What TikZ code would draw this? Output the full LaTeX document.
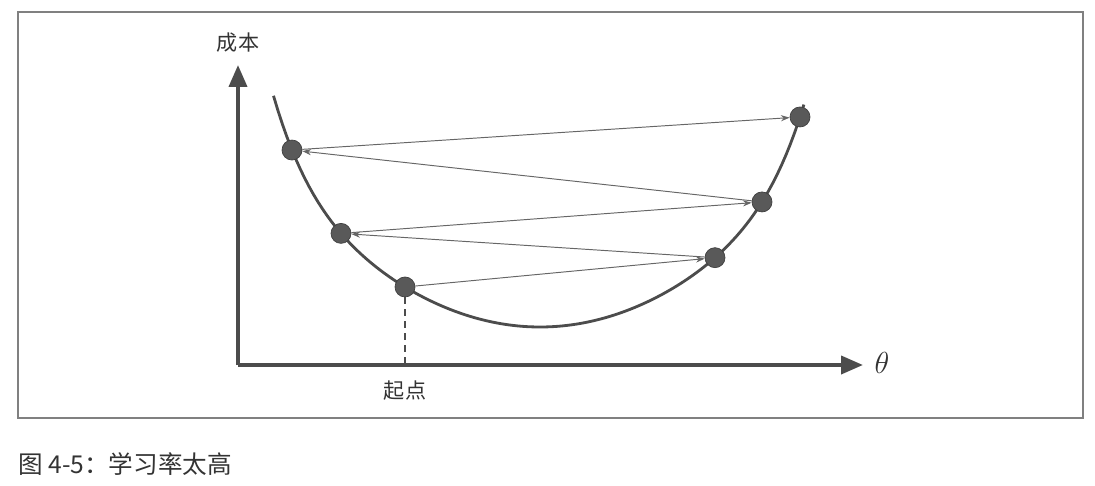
\documentclass[tikz,border=0pt]{standalone}
\usepackage{fontspec}
\newfontfamily\cjk{Noto Sans CJK SC}
\usetikzlibrary{arrows.meta}
\begin{document}
\begin{tikzpicture}[x=0.02cm, y=-0.02cm,
			declare function={cost(\t)=21.77*\t*\t+0.0301*(\t*\t)^4;},
			dot/.style={circle, fill=black!65, draw=black!75, inner sep=0pt, minimum size=0.4cm},
			jump/.style={-{Stealth[length=5pt,width=3.5pt]}, draw=black!60, line width=0.55pt},
			axis/.style={-{Triangle[length=0.44cm,width=0.36cm]}, draw=black!70, line width=2.2pt},
			lbl/.style={font=\cjk\fontsize{12}{14}\selectfont, text=black!80}
			]
			\useasboundingbox (0,0) rectangle (1095,486);
			
			% Frame
			\draw[black!50, line width=1pt] (18,12) rectangle (1083,418);
			
			% Axes
			\coordinate (o) at (238,365);
			\coordinate (ytip) at (238,65);
			\coordinate (xtip) at (863,365);
			\draw[axis] (o) -- (ytip);
			\draw[axis] (o) -- (xtip);
			\node[lbl] (cost) at (238,43) {成本};
			\node[font=\fontsize{16}{18}\selectfont, text=black!80] (theta) at (882,363) {$\theta$};
			
			% Cost curve
			\draw[black!70, line width=1.6pt] plot[domain=-2.665:2.64, samples=120] ({540+100*\x}, {327-cost(\x)});
			
			% Steps
			\node[dot] (p1) at ({540-248}, {327-cost(-2.48)}) {};
			\node[dot] (p2) at ({540-199}, {327-cost(-1.99)}) {};
			\node[dot] (p3) at ({540-135}, {327-cost(-1.35)}) {};
			\node[dot] (p4) at ({540+175}, {327-cost(1.75)}) {};
			\node[dot] (p5) at ({540+222}, {327-cost(2.22)}) {};
			\node[dot] (p6) at ({540+260}, {327-cost(2.60)}) {};
			
			% Start
			\draw[black!70, line width=1.4pt, dash pattern=on 0.14cm off 0.1cm] (p3) -- (p3 |- o);
			\node[lbl] (start) at (405,391) {起点};
			
			% Jumps back and forth
			\draw[jump] (p3) -- (p4);
			\draw[jump] (p4) -- (p2);
			\draw[jump] (p2) -- (p5);
			\draw[jump] (p5) -- (p1);
			\draw[jump] (p1) -- (p6);
			
			% Caption
			\node[anchor=west, font=\cjk\fontsize{14}{16}\selectfont, text=black!80, inner sep=0pt] (caption) at (18,464) {图 4-5：学习率太高};
		\end{tikzpicture}
\end{document}
